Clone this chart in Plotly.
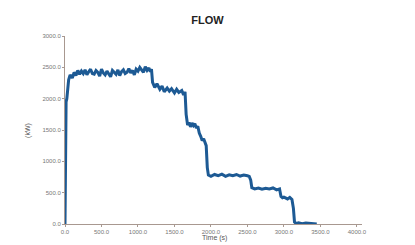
import plotly.graph_objects as go

time_s = [0, 3, 8, 15, 25, 35, 50, 70, 100, 125, 150, 175, 200, 225, 250, 275, 300, 325, 350, 375,
          400, 425, 450, 475, 500, 525, 550, 575, 600, 625, 650, 675, 700, 725, 750, 775, 800, 825,
          850, 875, 900, 925, 950, 975, 1000, 1025, 1050, 1075, 1100, 1125, 1150, 1170, 1185, 1200,
          1230, 1260, 1300, 1330, 1360, 1400, 1430, 1460, 1500, 1530, 1560, 1600, 1625, 1645, 1660,
          1680, 1700, 1720, 1740, 1760, 1780, 1800, 1820, 1840, 1860, 1880, 1900, 1920, 1935, 1950,
          1965, 2000, 2050, 2100, 2150, 2200, 2250, 2300, 2350, 2400, 2450, 2500, 2525, 2545, 2560,
          2600, 2650, 2700, 2750, 2800, 2850, 2900, 2940, 2960, 2980, 3000, 3050, 3080, 3110, 3130,
          3145, 3160, 3175, 3200, 3250, 3300, 3350, 3400, 3450, 3500, 3520]
power_kw = [0, 900, 1700, 1950, 2000, 2150, 2300, 2380, 2330, 2420, 2370, 2450, 2390, 2440, 2400, 2460,
            2380, 2430, 2470, 2400, 2390, 2450, 2420, 2360, 2470, 2410, 2380, 2440, 2400, 2350, 2450,
            2420, 2390, 2460, 2370, 2430, 2460, 2400, 2420, 2480, 2410, 2450, 2380, 2470, 2440, 2500,
            2460, 2420, 2510, 2450, 2490, 2430, 2470, 2260, 2180, 2240, 2150, 2200, 2110, 2170, 2120,
            2160, 2090, 2150, 2100, 2130, 2060, 2110, 1750, 1580, 1620, 1550, 1610, 1570, 1600, 1530,
            1560, 1450, 1400, 1330, 1360, 1290, 1250, 900, 780, 760, 790, 770, 795, 760, 785, 770, 790,
            765, 780, 770, 760, 700, 580, 560, 575, 555, 570, 560, 575, 545, 560, 440, 420, 430, 400,
            425, 390, 250, 30, 15, 10, 20, 5, 15, 10, 5, 0]

fig = go.Figure()
fig.add_trace(go.Scatter(x=time_s, y=power_kw, mode="lines",
                         line=dict(color="#1d5a94", width=3), showlegend=False))

axis_font = dict(family="Liberation Sans, Arial", size=6, color="#777777")
title_font = dict(family="Liberation Sans, Arial", size=7, color="#555555")
fig.update_layout(
    width=415, height=245,
    margin=dict(l=65, r=53, t=36, b=21, autoexpand=False),
    paper_bgcolor="white", plot_bgcolor="white",
    title=dict(text="<b>FLOW</b>", x=0.5, xanchor="center", y=0.918, yanchor="middle",
               font=dict(family="Liberation Sans, Arial", size=11, color="#222222")),
    xaxis=dict(range=[0, 4070], tickvals=[0, 500, 1000, 1500, 2000, 2500, 3000, 3500, 4000],
               tickformat=".1f", showgrid=False, zeroline=False, showline=True, automargin=False,
               linecolor="#a89890", linewidth=1, ticks="outside", ticklen=2, tickcolor="#a89890",
               tickfont=axis_font),
    yaxis=dict(range=[0, 3000], tickvals=[0, 500, 1000, 1500, 2000, 2500, 3000],
               tickformat=".1f", showgrid=False, zeroline=False, showline=True, automargin=False,
               linecolor="#a89890", linewidth=1, ticks="outside", ticklen=2, tickcolor="#a89890",
               tickfont=axis_font),
    annotations=[
        dict(text="Time (s)", xref="paper", yref="paper", x=(214 - 65) / 297, y=-0.072,
             xanchor="center", yanchor="middle", showarrow=False, font=title_font),
        dict(text="(kW)", xref="paper", yref="paper", x=-0.125, y=(224 - 130) / 188,
             xanchor="center", yanchor="middle", textangle=-90, showarrow=False, font=title_font),
    ],
)
fig.write_html("out.html", config={"displayModeBar": False},
               post_script="document.body.style.margin='0';")
